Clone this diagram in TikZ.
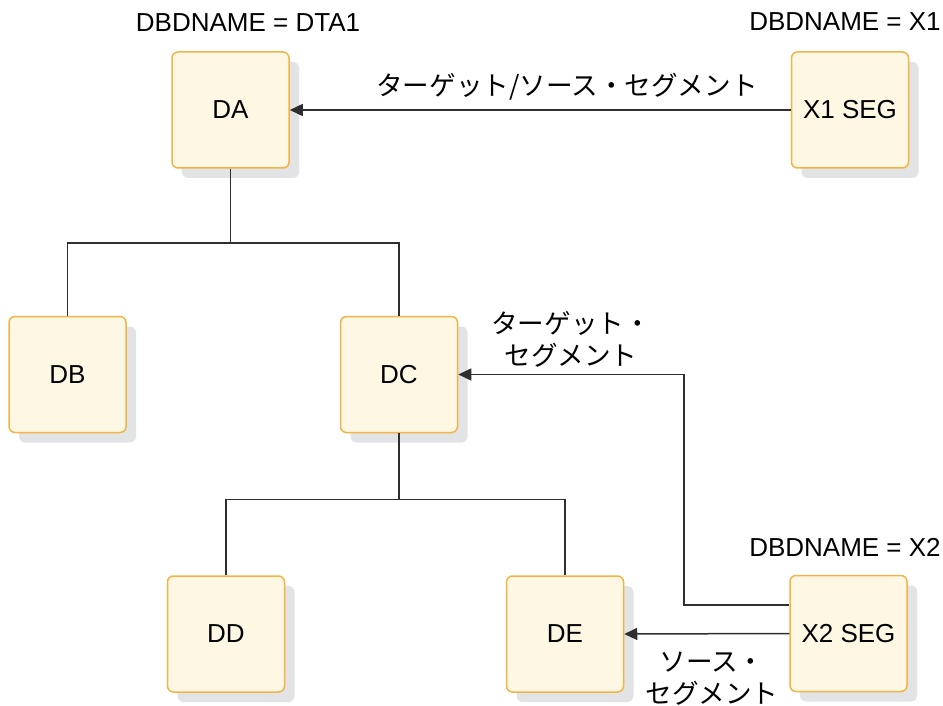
\documentclass[tikz,border=0pt]{standalone}
\usepackage{fontspec}
\setmainfont{Liberation Sans}
\newfontfamily\jpfont{Noto Sans CJK JP}
\usepackage{xcolor}
\usepackage{tikz}
\usetikzlibrary{positioning, arrows.meta, shadows}
\definecolor{segfill}{HTML}{FEF7E4}
\definecolor{segedge}{HTML}{F2B447}
\definecolor{segshade}{HTML}{E2E3E5}
\definecolor{linkgray}{HTML}{2E2E2E}

\tikzset{
  seg/.style={fill=segfill, draw=segedge, line width=0.75pt, rounded corners=3pt,
              minimum width=58.5pt, minimum height=58pt,
              font=\fontsize{13}{15}\selectfont,
              drop shadow={shadow xshift=5pt, shadow yshift=-5pt, fill=segshade, opacity=1}},
  tree/.style={draw=linkgray, line width=0.75pt},
  link/.style={tree, -{Triangle[length=6.5pt, width=6pt]}},
  dbd/.style={font=\fontsize{13}{15}\selectfont, inner sep=0pt},
  role/.style={font=\jpfont\fontsize{13.3}{16}\selectfont, align=center, inner sep=0pt},
}

\begin{document}
\begin{tikzpicture}[x=0.5pt, y=-0.5pt]
  \useasboundingbox (0,0) rectangle (943,706);

  % segments
  \node[seg] (DA) at (230.5,110) {DA};
  \node[seg] (X1) at (850,110) {X1 SEG};
  \node[seg] (DB) at (67.5,374.5) {DB};
  \node[seg] (DC) at (399,374.5) {DC};
  \node[seg] (DD) at (226,634) {DD};
  \node[seg] (DE) at (565,634) {DE};
  \node[seg] (X2) at (848.5,633.5) {X2 SEG};

  % database names
  \node[dbd] (nameDTA) at (248,23) {DBDNAME = DTA1};
  \node[dbd] (nameX1) at (845,22) {DBDNAME = X1};
  \node[dbd] (nameX2) at (845,547) {DBDNAME = X2};

  % hierarchy
  \draw[tree] (DA.south) -- ++(0,74) coordinate (jA);
  \draw[tree] (DB.north) |- (jA) -| (DC.north);
  \draw[tree] (DC.south) -- ++(0,66) coordinate (jC);
  \draw[tree] (DD.north) |- (jC) -| (DE.north);

  % logical relationships
  \draw[link] (X1.west) -- (DA.east);
  \node[role] (tsLabel) at (567,87) {ターゲット/ソース・セグメント};
  \draw[link] (X2.west |- 0,605) -- (684,605) |- (DC.east);
  \node[role] (tLabel) at (571,339) {ターゲット・\\セグメント};
  \draw[link] (X2.west) -- (DE.east);
  \node[role] (sLabel) at (712,679) {ソース・\\セグメント};
\end{tikzpicture}
\end{document}
